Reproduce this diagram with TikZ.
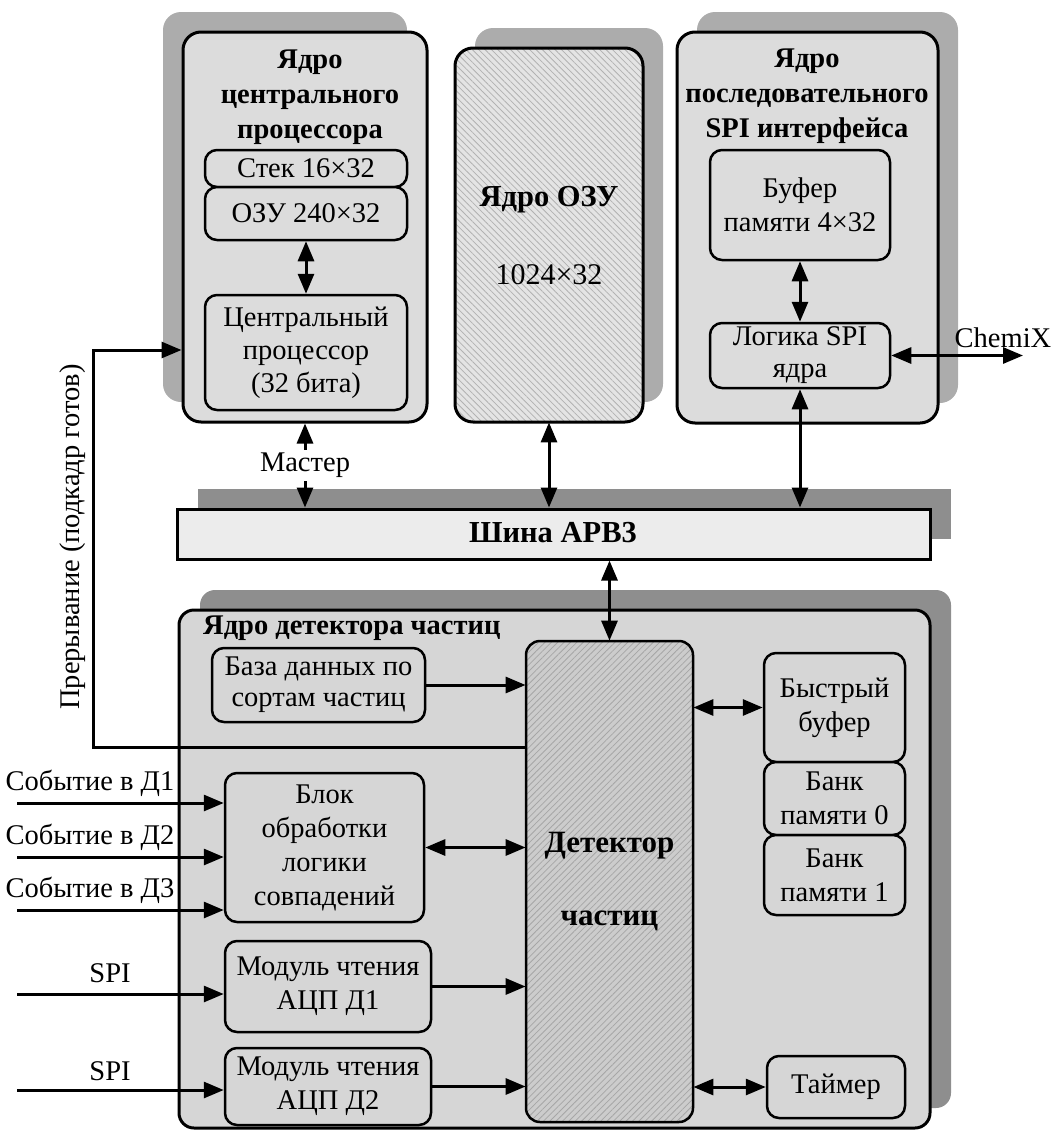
\documentclass[tikz,border=0pt]{standalone}
\usepackage{fontspec}
\setmainfont{Liberation Serif}
\usetikzlibrary{arrows.meta,shadows,patterns.meta,calc}
\definecolor{boxfill}{RGB}{220,220,220}
\definecolor{detfill}{RGB}{214,214,214}
\definecolor{busfill}{RGB}{236,236,236}
\definecolor{shadowA}{RGB}{172,172,172}
\definecolor{shadowB}{RGB}{142,142,142}
\definecolor{ramfill}{RGB}{228,228,228}
\definecolor{ramline}{RGB}{178,178,178}
\definecolor{hatchfill}{RGB}{204,204,204}
\definecolor{hatchline}{RGB}{166,166,166}
\begin{document}
\begin{tikzpicture}[x=1pt,y=-1pt,
  font=\fontsize{28.5}{34}\selectfont,
  wh/.style n args={2}{minimum width=#1pt,minimum height=#2pt},
  outerbox/.style={draw,line width=3pt,fill=boxfill,rounded corners=18pt,rectangle,inner sep=0pt},
  innerbox/.style={draw,line width=2.5pt,fill=boxfill,rounded corners=12pt,rectangle,inner sep=0pt,align=center},
  shadowleft/.style={general shadow={fill=shadowA,shadow xshift=-20pt,shadow yshift=20pt}},
  shadowright/.style={general shadow={fill=shadowA,shadow xshift=20pt,shadow yshift=20pt}},
  shadowdark/.style={general shadow={fill=shadowB,shadow xshift=21pt,shadow yshift=20pt}},
  tip/.tip={Triangle[length=20pt,width=16pt]},
  onearrow/.style={line width=3pt,-tip},
  twoarrow/.style={line width=3pt,tip-tip},
  title/.style={font=\fontsize{28.5}{35}\selectfont\bfseries,align=center,inner sep=0pt},
  bigbold/.style={font=\fontsize{30.5}{34}\selectfont\bfseries},
  plain/.style={inner sep=0pt,align=center}
]
\useasboundingbox (0,0) rectangle (1052,1130);

% ---------- CPU core ----------
\node[outerbox,shadowleft,wh={244}{390}] (cpucore) at (305,227) {};
\node[title] (cputitle) at (310,97) {Ядро\\центрального\\процессора};
\node[innerbox,wh={202}{37}] (stack) at (306,168.5) {Стек 16×32};
\node[innerbox,wh={202}{53}] (ram240) at (306,213.5) {ОЗУ 240×32};
\node[innerbox,wh={202}{115},font=\fontsize{28.5}{33}\selectfont] (cpu) at (306,352.5) {Центральный\\процессор\\(32 бита)};
\draw[twoarrow] (ram240.south) -- (cpu.north);

% ---------- RAM core ----------
\node[draw,line width=3pt,rounded corners=18pt,rectangle,inner sep=0pt,
      shadowright,preaction={fill=ramfill},
      pattern={Lines[angle=-45,distance=4.5pt,line width=0.8pt]},pattern color=ramline,
      wh={188}{374}] (ramcore) at (549,235) {};
\node[plain,bigbold] (ramtitle) at (549,200) {Ядро ОЗУ};
\node[plain,font=\fontsize{30}{34}\selectfont] (ramsize) at (549,275) {1024×32};

% ---------- SPI core ----------
\node[outerbox,shadowright,wh={261}{391}] (spicore) at (807.5,227.5) {};
\node[title] (spititle) at (807,96) {Ядро\\последовательного\\SPI интерфейса};
\node[innerbox,wh={180}{110}] (spibuf) at (800,205) {Буфер\\памяти 4×32};
\node[innerbox,wh={180}{65},font=\fontsize{28.5}{32}\selectfont] (spilogic) at (800,355.5) {Логика SPI\\ядра};
\draw[twoarrow] (spibuf.south) -- (spilogic.north);
\coordinate (chemixend) at (1023,355.5);
\draw[twoarrow] (spilogic.east) -- (chemixend);
\node[plain] (chemix) at (1003,338) {ChemiX};

% ---------- Bus ----------
\node[draw,line width=3pt,fill=busfill,rectangle,inner sep=0pt,shadowdark,wh={753}{50}] (bus) at (553.5,534) {};
\node[plain,bigbold] (bustext) at (553,533) {Шина APB3};

\draw[twoarrow] (cpucore.south) -- node[fill=white,inner sep=3pt] (master) {Мастер} (cpucore.south |- bus.north);
\draw[twoarrow] (ramcore.south) -- (ramcore.south |- bus.north);
\draw[twoarrow] (spilogic.south) -- (spilogic.south |- bus.north);

% ---------- Detector core ----------
\node[draw,line width=3pt,fill=detfill,rounded corners=15pt,rectangle,inner sep=0pt,shadowdark,wh={751}{518}] (detcore) at (554.5,869) {};
\node[plain,anchor=west,font=\fontsize{28.5}{34}\selectfont\bfseries] (dettitle) at (203,628) {Ядро детектора частиц};

\node[draw,line width=2.5pt,rounded corners=14pt,rectangle,inner sep=0pt,align=center,
      preaction={fill=hatchfill},
      pattern={Lines[angle=45,distance=4.5pt,line width=0.8pt]},pattern color=hatchline,
      font=\fontsize{31}{34}\selectfont\bfseries,
      wh={167}{481}] (detector) at (609.5,881.5) {Детектор\\[39pt]частиц};

\node[innerbox,fill=detfill,wh={213}{74},font=\fontsize{28.5}{31}\selectfont] (db) at (318.5,685) {База данных по\\сортам частиц};
\node[innerbox,fill=detfill,wh={199}{149}] (coinc) at (324.5,847.5) {Блок\\обработки\\логики\\совпадений};
\node[innerbox,fill=detfill,wh={206}{91}] (adc1) at (328,986.5) {Модуль чтения\\АЦП Д1};
\node[innerbox,fill=detfill,wh={206}{77}] (adc2) at (328,1086.5) {Модуль чтения\\АЦП Д2};

\node[innerbox,fill=detfill,wh={141}{109}] (fastbuf) at (834.5,707.5) {Быстрый\\буфер};
\node[innerbox,fill=detfill,wh={141}{73}] (bank0) at (834.5,798.5) {Банк\\памяти 0};
\node[innerbox,fill=detfill,wh={141}{80}] (bank1) at (834.5,875) {Банк\\памяти 1};
\node[innerbox,fill=detfill,wh={138}{62}] (timer) at (836,1087) {Таймер};

\draw[twoarrow] (bus.south -| detector.north) -- (detector.north);
\draw[onearrow] (db.east) -- (db.east -| detector.west);
\draw[twoarrow] (coinc.east) -- (coinc.east -| detector.west);
\draw[onearrow] (adc1.east) -- (adc1.east -| detector.west);
\draw[onearrow] (adc2.east) -- (adc2.east -| detector.west);
\draw[twoarrow] (detector.east |- fastbuf.west) -- (fastbuf.west);
\draw[twoarrow] (detector.east |- timer.west) -- (timer.west);

% ---------- Interrupt ----------
\coordinate (irqlow) at (93,747);
\coordinate (irqhigh) at (93,350);
\draw[onearrow] (detector.west |- irqlow) -- (irqlow) -- (irqhigh) -- (irqhigh -| cpucore.west);
\node[plain,rotate=90] (irqlabel) at (73,537) {Прерывание (подкадр готов)};

% ---------- Inputs ----------
\node[plain] (ev1) at (90,783) {Событие в Д1};
\node[plain] (ev2) at (90,837) {Событие в Д2};
\node[plain] (ev3) at (90,890) {Событие в Д3};
\node[plain] (spi1) at (110,973) {SPI};
\node[plain] (spi2) at (110,1071) {SPI};
\coordinate (in1) at (17,803);
\coordinate (in2) at (17,857);
\coordinate (in3) at (17,910);
\coordinate (in4) at (17,994);
\coordinate (in5) at (17,1090);
\draw[onearrow] (in1) -- (in1 -| coinc.west);
\draw[onearrow] (in2) -- (in2 -| coinc.west);
\draw[onearrow] (in3) -- (in3 -| coinc.west);
\draw[onearrow] (in4) -- (in4 -| adc1.west);
\draw[onearrow] (in5) -- (in5 -| adc2.west);
\end{tikzpicture}
\end{document}
